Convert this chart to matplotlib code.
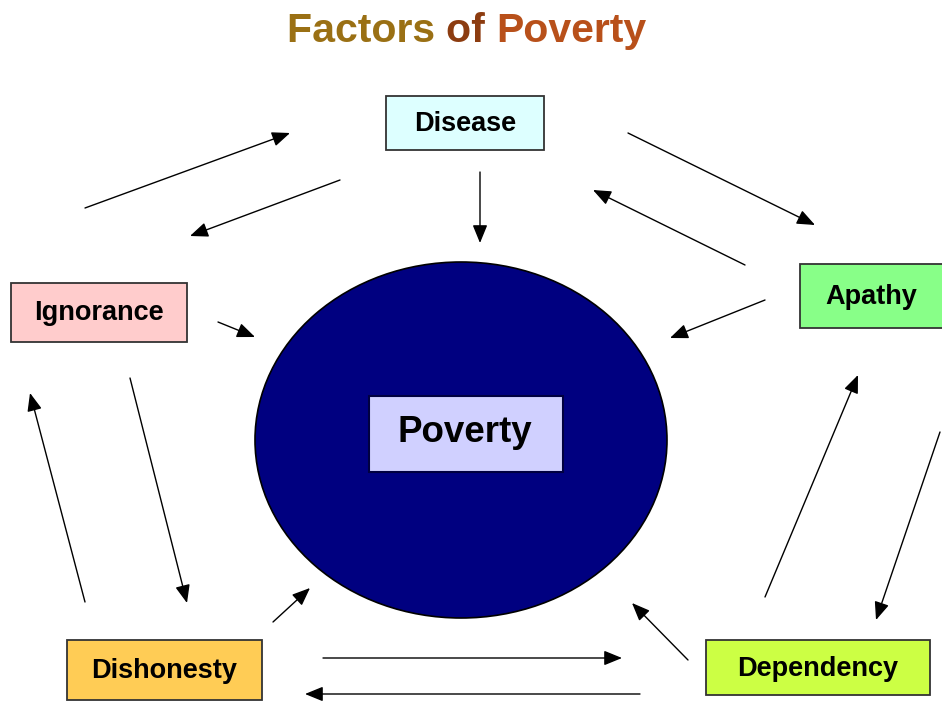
import matplotlib.pyplot as plt
from matplotlib.patches import Ellipse, Rectangle

# factor boxes: label, fill colour
factors = ['Disease', 'Ignorance', 'Apathy', 'Dishonesty', 'Dependency']
fills = ['#DDFFFF', '#FFCCCC', '#88FF88', '#FFCC55', '#CCFF44']
# box layout in pixels (x0, y0, w, h), y from top
boxes = [(386, 96, 158, 54), (11, 283, 176, 59), (800, 264, 145, 64),
         (67, 640, 195, 60), (706, 640, 224, 55)]

# arrows: (x_start, y_start, x_head, y_head)
arrows = [
    (85, 208, 290, 133), (340, 180, 190, 236), (480, 172, 480, 243),
    (628, 133, 815, 225), (745, 265, 593, 190), (765, 300, 670, 338),
    (218, 322, 255, 337), (130, 378, 187, 603), (85, 602, 30, 393),
    (273, 622, 310, 588), (323, 658, 622, 658), (640, 694, 305, 694),
    (688, 660, 632, 603), (765, 597, 858, 375), (940, 432, 876, 620),
]

title_words = ['Factors ', 'of ', 'Poverty']
title_colors = ['#9A7014', '#8C3C10', '#B8501A']

plt.rcParams['font.family'] = ['Liberation Sans', 'DejaVu Sans']

fig = plt.figure(figsize=(9.42, 7.03), dpi=100)
ax = fig.add_axes([0, 0, 1, 1])
ax.set_xlim(0, 942)
ax.set_ylim(703, 0)
ax.axis('off')

# central circle
ax.add_patch(Ellipse((461, 440), 412, 356, facecolor='#000080',
                     edgecolor='black', lw=1.2, zorder=1))
ax.add_patch(Rectangle((369, 396), 194, 76, facecolor='#D0D0FF',
                       edgecolor='#000040', lw=1.5, zorder=2))
ax.text(465, 433, 'Poverty', ha='center', va='center', fontsize=26.5,
        fontweight='bold', zorder=3)

for name, col, (x0, y0, w, h) in zip(factors, fills, boxes):
    ax.add_patch(Rectangle((x0, y0), w, h, facecolor=col,
                           edgecolor='#333333', lw=1.3, zorder=2))
    cx = x0 + w / 2 if x0 + w <= 942 else x0 + (942 - x0) / 2
    ax.text(cx, y0 + h / 2 + 1, name, ha='center', va='center',
            fontsize=19.5, fontweight='bold', zorder=3)

for xs, ys, xh, yh in arrows:
    ax.annotate('', xy=(xh, yh), xytext=(xs, ys),
                arrowprops=dict(arrowstyle='-|>,head_length=1.1,head_width=0.45',
                                color='black', lw=1, shrinkA=0, shrinkB=0))

# title with coloured words
fig.canvas.draw()
renderer = fig.canvas.get_renderer()
x = 287
for word, col in zip(title_words, title_colors):
    t = ax.text(x, 31, word, ha='left', va='center', fontsize=29.5,
                fontweight='bold', color=col)
    bb = t.get_window_extent(renderer=renderer)
    x += bb.width

plt.savefig('out.png', dpi=100)
